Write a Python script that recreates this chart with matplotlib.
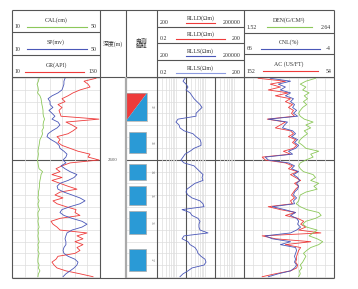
import matplotlib
matplotlib.use("Agg")
import matplotlib.pyplot as plt
import numpy as np
from matplotlib.patches import Polygon, Rectangle

plt.rcParams['font.family'] = ['Liberation Serif', 'Noto Sans CJK SC', 'DejaVu Sans']

# ---- data ----
depth = np.arange(2593.0, 2610.01, 0.25)

gr = [124.5, 108.2, 113.6, 116.4, 102.7, 93.2, 86.4, 78.2, 82.3, 72.7,
      78.2, 74.1, 75.5, 76.8, 128.6, 83.6, 91.8, 98.6, 93.2, 86.4,
      71.4, 75.5, 72.7, 78.2, 89.1, 100.0, 116.4, 113.6, 128.6, 89.1,
      78.2, 70.0, 75.5, 64.5, 78.2, 64.5, 75.5, 86.4, 98.6, 75.5,
      68.6, 79.5, 65.9, 71.4, 83.6, 97.3, 95.9, 102.7, 75.5, 63.2,
      65.9, 71.4, 75.5, 112.3, 98.6, 106.8, 95.9, 106.8, 98.6, 102.7,
      95.9, 72.7, 70.0, 64.5, 67.3, 71.4, 83.6, 102.7, 120.5]

sp = [34.1, 33.6, 33.6, 33.2, 32.7, 30.9, 28.2, 26.4, 27.3, 27.3,
      28.6, 26.8, 28.2, 29.5, 28.2, 30.9, 31.8, 30.5, 28.2, 26.4,
      25.9, 27.7, 30.0, 31.4, 31.8, 33.6, 35.0, 34.5, 33.2, 34.5,
      32.3, 34.1, 36.4, 39.5, 38.2, 35.5, 31.8, 30.5, 30.9, 33.6,
      37.3, 40.9, 43.2, 40.9, 36.4, 32.7, 31.8, 33.6, 37.3, 41.8,
      44.1, 41.8, 37.3, 35.0, 34.5, 34.1, 34.5, 34.5, 33.6, 33.2,
      33.6, 35.5, 38.6, 40.0, 39.5, 38.2, 36.4, 34.5, 33.2]

cal = [22.3, 22.0, 21.4, 21.8, 22.0, 21.6, 22.7, 23.2, 23.4, 23.6,
       23.9, 24.1, 24.1, 24.3, 24.8, 24.3, 24.1, 24.3, 23.6, 23.9,
       23.4, 22.7, 22.5, 22.3, 22.0, 21.8, 22.0, 21.8, 21.6, 21.8,
       22.0, 22.3, 23.9, 23.2, 23.0, 22.7, 22.5, 22.5, 22.3, 22.0,
       22.0, 21.8, 22.3, 21.8, 22.0, 22.5, 21.8, 21.8, 22.0, 21.8,
       22.0, 22.3, 21.8, 22.0, 21.8, 22.0, 22.3, 21.8, 22.0, 21.8,
       22.3, 22.0, 21.8, 21.8, 22.3, 22.0, 22.7, 22.0, 21.8]

rlls = [1.85, 1.58, 2.0, 2.34, 2.0, 2.75, 3.22, 3.78, 4.79, 6.08,
        7.13, 5.61, 4.43, 4.43, 1.06, 0.90, 1.15, 1.24, 1.71, 3.48,
        4.43, 6.08, 6.58, 6.58, 3.78, 2.75, 1.85, 1.58, 1.34, 1.71,
        3.78, 4.79, 6.08, 7.71, 7.13, 7.71, 4.08, 2.97, 2.16, 2.0,
        2.34, 3.22, 6.08, 7.71, 8.35, 1.46, 2.75, 3.22, 5.19, 6.08,
        5.61, 5.61, 6.08, 11.5, 1.71, 1.46, 2.34, 2.75, 4.08, 4.79,
        5.19, 6.58, 9.04, 9.79, 8.35, 3.22, 2.34, 1.58, 1.24]

ac = [136.6, 106.9, 123.4, 112.4, 125.6, 103.6, 117.9, 101.4, 106.9, 99.2,
      103.6, 98.1, 100.3, 97.0, 126.7, 106.9, 112.4, 117.9, 101.4, 98.1,
      103.6, 95.8, 99.2, 94.7, 98.1, 109.1, 101.4, 132.2, 128.9, 106.9,
      99.2, 103.6, 93.6, 101.4, 95.8, 90.3, 97.0, 92.5, 95.8, 98.1,
      100.3, 97.0, 101.4, 99.2, 125.6, 112.4, 95.8, 106.9, 93.6, 87.0,
      90.3, 84.8, 92.5, 68.3, 132.2, 117.9, 79.3, 106.9, 90.3, 92.5,
      93.6, 94.7, 94.7, 95.8, 93.6, 94.7, 101.4, 117.9, 132.2]

cnl = [45.6, 29.8, 39.3, 33.8, 37.7, 29.8, 33.8, 27.5, 29.8, 26.7,
       28.2, 25.1, 27.5, 24.3, 47.1, 32.2, 34.5, 36.1, 28.2, 25.9,
       29.0, 24.3, 26.7, 23.5, 25.9, 31.4, 28.2, 49.5, 47.1, 31.4,
       26.7, 29.0, 23.5, 27.5, 24.3, 22.7, 25.1, 23.5, 24.3, 26.7,
       27.5, 25.1, 27.5, 26.7, 44.0, 34.5, 25.9, 29.8, 25.1, 23.5,
       24.3, 22.0, 25.1, 29.8, 49.5, 44.0, 29.8, 37.7, 25.9, 25.1,
       25.9, 26.7, 25.9, 26.7, 25.1, 26.7, 29.8, 39.3, 47.1]

den = [2.41, 2.29, 2.22, 2.29, 2.25, 2.33, 2.27, 2.31, 2.26, 2.30,
       2.25, 2.22, 2.20, 2.22, 2.27, 2.38, 2.29, 2.35, 2.27, 2.31,
       2.26, 2.22, 2.20, 2.25, 2.29, 2.45, 2.35, 2.38, 2.29, 2.22,
       2.20, 2.22, 2.26, 2.38, 2.41, 2.35, 2.45, 2.39, 2.43, 2.29,
       2.22, 2.21, 2.20, 2.17, 2.22, 2.30, 2.45, 2.48, 2.41, 2.29,
       2.25, 2.30, 2.43, 2.38, 2.33, 2.43, 2.50, 2.45, 2.35, 2.30,
       2.26, 2.29, 2.27, 2.25, 2.22, 2.24, 2.21, 2.22, 2.20]

layer_top = [2594.26, 2597.6, 2600.34, 2602.23, 2604.37, 2607.63]
layer_bottom = [2596.66, 2599.4, 2601.71, 2603.86, 2606.34, 2609.51]
layer_label = ['32', '33', '34', '35', '36', '37']
layer_kind = ['mixed', 'water', 'water', 'water', 'water', 'water']

depth_top, depth_bottom = 2592.89, 2610.11

# ---- layout (pixels) ----
W, H = 358, 289
RED, BLUE, GREEN = '#ee3b3b', '#4a57b8', '#8cc85a'
LBLUE = '#8c9be0'
BOXBLUE = '#2a9ad6'
FRAME = '#555555'
GRID = '#dddddd'

fig = plt.figure(figsize=(W / 100, H / 100), dpi=100)


def rect(x0, y0, x1, y1):
    return [x0 / W, 1 - y1 / H, (x1 - x0) / W, (y1 - y0) / H]


def bare(ax):
    ax.set_ylim(depth_bottom, depth_top)
    ax.set_xticks([])
    ax.set_yticks([])
    ax.minorticks_off()
    ax.tick_params(which='both', length=0, labelbottom=False, labelleft=False,
                   labeltop=False, labelright=False)
    for s in ax.spines.values():
        s.set_visible(False)


def hgrid(ax):
    for d in range(2593, 2611):
        ax.axhline(d, color='#555555' if d == 2600 else GRID,
                   lw=0.8 if d == 2600 else 0.5, zorder=0)


# track 1: GR / SP / CAL
ax1 = fig.add_axes(rect(12, 77, 100, 278))
bare(ax1)
ax1.set_xlim(10, 130)
hgrid(ax1)
for v in np.linspace(10, 130, 8)[1:-1]:
    ax1.axvline(v, color=GRID, lw=0.5, zorder=0)
ax1.plot(gr, depth, color=RED, lw=0.6)
ax1b = ax1.twiny()
bare(ax1b)
ax1b.set_xlim(10, 50)
ax1b.plot(sp, depth, color=BLUE, lw=0.6)
ax1b.plot(cal, depth, color=GREEN, lw=0.6)

# depth column
axd = fig.add_axes(rect(100, 77, 126, 278))
bare(axd)
axd.set_xlim(0, 1)
axd.text(0.5, 2600, '2600', ha='center', va='center', fontsize=3.5, color='#555555')

# interpretation column
axi = fig.add_axes(rect(126, 77, 157, 278))
bare(axi)
axi.set_xlim(0, 31)
hgrid(axi)
for top, bot, lab, kind in zip(layer_top, layer_bottom, layer_label, layer_kind):
    if kind == 'mixed':
        x0, x1 = 0, 21
        axi.add_patch(Polygon([(x0, top), (x1, top), (x0, bot)], closed=True,
                              fc=RED, ec='none', zorder=2))
        axi.add_patch(Polygon([(x1, top), (x1, bot), (x0, bot)], closed=True,
                              fc=BOXBLUE, ec='none', zorder=2))
        axi.add_patch(Rectangle((x0, top), x1 - x0, bot - top, fc='none',
                                ec='#aaaaaa', lw=0.5, zorder=3))
    else:
        x0, x1 = 3, 20
        axi.add_patch(Rectangle((x0, top), x1 - x0, bot - top, fc=BOXBLUE,
                                ec='#aaaaaa', lw=0.5, zorder=2))
    axi.text(26, (top + bot) / 2, lab, rotation=270, ha='center', va='center',
             fontsize=2.8, color='#777777')

# resistivity track
axr = fig.add_axes(rect(157, 77, 244, 278))
axr.set_xscale('log')
bare(axr)
axr.set_xlim(0.2, 200)
hgrid(axr)
for dec in [0.1, 1, 10]:
    for m in range(2, 10):
        v = dec * m
        if 0.2 < v < 200:
            axr.axvline(v, color=GRID, lw=0.5, zorder=0)
for v in [2, 20]:
    axr.axvline(v, color=FRAME, lw=0.8, zorder=1)
axr.plot(rlls, depth, color=BLUE, lw=0.6)

# track 4: AC / CNL / DEN
ax4 = fig.add_axes(rect(244, 77, 334, 278))
bare(ax4)
ax4.set_xlim(152, 54)
hgrid(ax4)
for v in np.linspace(152, 54, 11)[1:-1]:
    ax4.axvline(v, color=GRID, lw=0.5, zorder=0)
ax4.plot(ac, depth, color=RED, lw=0.6)
ax4b = ax4.twiny()
bare(ax4b)
ax4b.set_xlim(66, -4)
ax4b.plot(cnl, depth, color=BLUE, lw=0.6)
ax4c = ax4.twiny()
bare(ax4c)
ax4c.set_xlim(1.52, 2.64)
ax4c.plot(den, depth, color=GREEN, lw=0.6)

# ---- frame and header ----
hd = fig.add_axes([0, 0, 1, 1], zorder=10)
hd.set_xlim(0, W)
hd.set_ylim(H, 0)
hd.axis('off')
hd.patch.set_alpha(0)

L, R, T, B, HB = 12, 334, 10, 278, 77


def hline(x0, x1, y, **kw):
    hd.plot([x0, x1], [y, y], color=FRAME, lw=0.8, solid_capstyle='butt', **kw)


def vline(x, y0, y1, color=FRAME, lw=0.8):
    hd.plot([x, x], [y0, y1], color=color, lw=lw, solid_capstyle='butt')


hline(L, R, T)
hline(L, R, B)
hline(L, R, HB)
vline(L, T, B)
vline(R, T, B)
vline(100, T, B)
vline(126, T, HB)
vline(126, HB, B, color='#aaaaaa', lw=1.6)
vline(157, T, B)
vline(244, T, B)

FS = 4.2
TXT = '#333333'


def header_row(x0, x1, y0, y1, title, lo, hi, color, lx0, lx1):
    ty = y0 + (y1 - y0) * 0.45
    ly = y0 + (y1 - y0) * 0.75
    hd.text((x0 + x1) / 2, ty, title, ha='center', va='center', fontsize=FS, color=TXT)
    hd.plot([lx0, lx1], [ly, ly], color=color, lw=0.8)
    hd.text(x0 + 3, ly, lo, ha='left', va='center', fontsize=FS, color=TXT)
    hd.text(x1 - 3, ly, hi, ha='right', va='center', fontsize=FS, color=TXT)


# track 1 header
for y in [32, 55]:
    hline(L, 100, y)
header_row(12, 100, 10, 32, 'CAL(cm)', '10', '50', GREEN, 27, 87)
header_row(12, 100, 32, 55, 'SP(mv)', '10', '50', BLUE, 27, 87)
header_row(12, 100, 55, 77, 'GR(API)', '10', '130', RED, 25, 84)

hd.text(113, 44, '深度(m)', ha='center', va='center', fontsize=FS, color=TXT)
hd.text(141.5, 44, '电测\n解释', ha='center', va='center', fontsize=FS,
        color=TXT, linespacing=1.0)

# resistivity header
for y in [27, 43, 60]:
    hline(157, 244, y)
header_row(157, 244, 10, 27, 'RLLD(Ωm)', '200', '200000', RED, 186, 215)
header_row(157, 244, 27, 43, 'RLLD(Ωm)', '0.2', '200', RED, 176, 225)
header_row(157, 244, 43, 60, 'RLLS(Ωm)', '200', '200000', BLUE, 186, 215)
header_row(157, 244, 60, 77, 'RLLS(Ωm)', '0.2', '200', LBLUE, 176, 225)

# track 4 header
for y in [33, 54]:
    hline(244, R, y)
header_row(244, R, 10, 33, 'DEN(G/CM³)', '1.52', '2.64', GREEN, 267, 312)
header_row(244, R, 33, 54, 'CNL(%)', '66', '-4', BLUE, 261, 320)
header_row(244, R, 54, 77, 'AC (US/FT)', '152', '54', RED, 263, 318)

fig.savefig('out.png', dpi=100)
